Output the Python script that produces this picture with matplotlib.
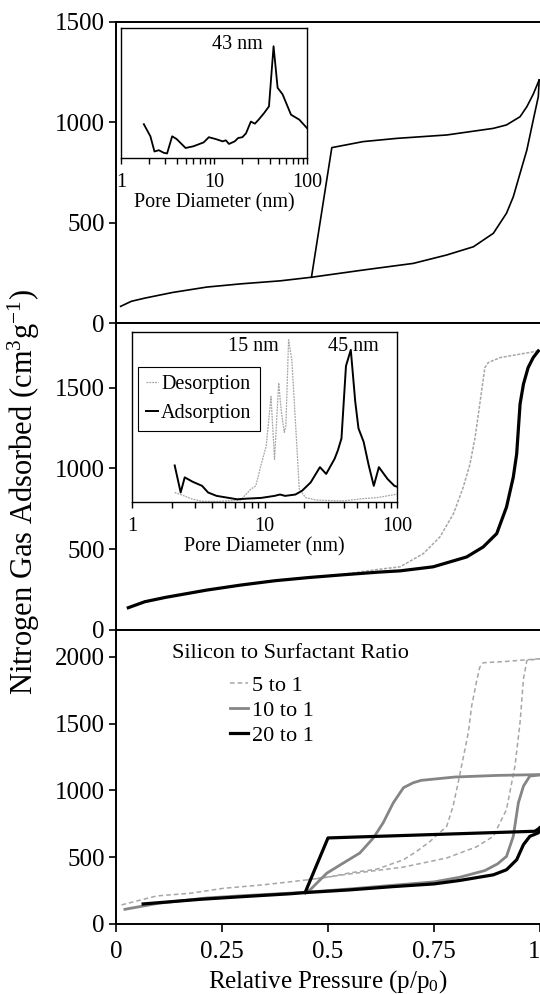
import matplotlib
matplotlib.use("Agg")
import matplotlib.pyplot as plt
import matplotlib.ticker as mticker
import numpy as np

plt.rcParams['font.family'] = ['Liberation Serif', 'DejaVu Serif']
plt.rcParams['mathtext.fontset'] = 'custom'
plt.rcParams['mathtext.rm'] = 'Liberation Serif'
plt.rcParams['mathtext.it'] = 'Liberation Serif:italic'

# ---- top panel isotherm (single sample) ----
p_ads_a = [0.011, 0.036, 0.068, 0.133, 0.214, 0.294, 0.387, 0.461, 0.583, 0.701, 0.78, 0.843,
           0.89, 0.921, 0.937, 0.953, 0.969, 0.984, 0.996, 0.998]
v_ads_a = [83, 108, 124, 152, 179, 195, 210, 228, 264, 297, 339, 380,
           447, 547, 629, 746, 862, 1011, 1128, 1211]
p_des_a = [0.998, 0.984, 0.969, 0.953, 0.921, 0.89, 0.78, 0.662, 0.583, 0.509, 0.461]
v_des_a = [1211, 1140, 1078, 1028, 987, 970, 937, 920, 904, 874, 228]

# top inset: pore size distribution (relative units)
d_a = [1.76, 2.07, 2.29, 2.55, 2.88, 3.13, 3.55, 3.96, 4.95, 6.0, 7.74, 8.8, 10.4, 12.4, 13.4,
       14.5, 16.7, 18.2, 20.2, 22.1, 24.9, 27.5, 30.2, 34.6, 39.0, 43.7, 48.3, 54.6, 67.3, 82.6, 100]
f_a = [0.26, 0.167, 0.05, 0.06, 0.04, 0.035, 0.167, 0.146, 0.077, 0.09, 0.12, 0.16, 0.146, 0.128, 0.136,
       0.108, 0.128, 0.154, 0.16, 0.19, 0.28, 0.264, 0.295, 0.346, 0.397, 0.86, 0.54, 0.49, 0.333, 0.295, 0.23]

# ---- middle panel isotherm ----
p_ads_b = [0.029, 0.068, 0.117, 0.214, 0.294, 0.375, 0.456, 0.537, 0.618, 0.67, 0.748, 0.827, 0.866,
           0.898, 0.921, 0.937, 0.945, 0.953, 0.961, 0.972, 0.984, 0.996]
v_ads_b = [138, 175, 202, 247, 278, 305, 325, 342, 358, 366, 391, 452, 514,
           597, 761, 946, 1090, 1399, 1522, 1624, 1686, 1727]
p_des_b = [0.996, 0.906, 0.878, 0.87, 0.858, 0.847, 0.835, 0.819, 0.796, 0.764, 0.725, 0.67,
           0.618, 0.537, 0.456, 0.375, 0.294, 0.214, 0.117, 0.068, 0.029]
v_des_b = [1727, 1686, 1655, 1624, 1399, 1193, 1029, 884, 720, 576, 473, 391,
           375, 345, 327, 305, 278, 247, 202, 175, 138]

# middle inset
d_ads_b = [2.10, 2.33, 2.50, 2.87, 3.38, 3.75, 4.35, 5.20, 6.21, 7.42, 9.42, 11.9, 13.1, 14.3, 17.1,
           19.2, 22.3, 26.2, 29.2, 33.8, 35.8, 38.1, 41.2, 44.8, 48.4, 51.2, 56.0, 61.2, 66.8, 73.0,
           84.9, 95.6, 100]
f_ads_b = [0.215, 0.056, 0.145, 0.119, 0.095, 0.056, 0.036, 0.026, 0.016, 0.02, 0.024, 0.036, 0.044,
           0.036, 0.044, 0.066, 0.115, 0.205, 0.165, 0.254, 0.304, 0.374, 0.80, 0.895, 0.59, 0.433,
           0.354, 0.215, 0.095, 0.205, 0.135, 0.095, 0.09]
d_des_b = [2.1, 2.4, 2.87, 3.42, 4.6, 6.6, 7.9, 8.6, 9.4, 10.3, 11.2, 11.9, 12.8, 13.4, 14.1, 14.5,
           15.2, 16.1, 17.3, 18.3, 20.4, 24.4, 39, 56, 71, 100]
f_des_b = [0.056, 0.04, 0.016, 0.004, 0.004, 0.012, 0.076, 0.095, 0.215, 0.33, 0.62, 0.25, 0.70, 0.53,
           0.41, 0.45, 0.954, 0.83, 0.41, 0.076, 0.026, 0.012, 0.006, 0.02, 0.026, 0.046]

# ---- bottom panel: three silicon/surfactant ratios ----
p_ads_5 = [0.013, 0.096, 0.175, 0.253, 0.347, 0.45, 0.552, 0.678, 0.78, 0.85, 0.89, 0.921, 0.941,
           0.953, 0.961, 0.969, 1.0]
v_ads_5 = [143, 210, 230, 267, 293, 330, 375, 426, 494, 577, 656, 857, 1183, 1509, 1835, 1972, 1985]
p_des_5 = [1.0, 0.921, 0.866, 0.858, 0.85, 0.839, 0.831, 0.823, 0.815, 0.807, 0.795, 0.78, 0.741,
           0.709, 0.678, 0.615, 0.552, 0.5, 0.45]
v_des_5 = [1985, 1965, 1955, 1922, 1809, 1634, 1434, 1308, 1183, 1058, 882, 731, 619,
           543, 481, 410, 383, 350, 330]

p_ads_10 = [0.021, 0.1, 0.214, 0.3, 0.446, 0.55, 0.654, 0.75, 0.811, 0.87, 0.9, 0.921, 0.937,
            0.949, 0.961, 0.976, 1.0]
v_ads_10 = [110, 155, 195, 212, 237, 262, 290, 315, 350, 400, 450, 506, 656, 907, 1032, 1107, 1115]
p_des_10 = [1.0, 0.9, 0.8, 0.72, 0.701, 0.678, 0.654, 0.63, 0.607, 0.575, 0.536, 0.497, 0.458, 0.446]
v_des_10 = [1118, 1112, 1100, 1075, 1057, 1020, 907, 757, 644, 531, 456, 380, 256, 237]

p_ads_20 = [0.064, 0.2, 0.3, 0.41, 0.446, 0.55, 0.654, 0.75, 0.811, 0.89, 0.921, 0.945, 0.961,
            0.976, 0.996, 1.0]
v_ads_20 = [150, 185, 205, 226, 235, 255, 280, 300, 326, 368, 406, 481, 594, 656, 682, 720]
p_des_20 = [1.0, 0.988, 0.5, 0.446]
v_des_20 = [720, 694, 644, 235]

ratio_labels = ['5 to 1', '10 to 1', '20 to 1']
x_ticks = [0, 0.25, 0.5, 0.75, 1]
x_ticklabels = ['0', '0.25', '0.5', '0.75', '1']

LIGHT = '#a6a6a6'
MID = '#858585'

fig = plt.figure(figsize=(5.4, 9.94), dpi=100)
L = 116 / 540
W = 1 - L
ax1 = fig.add_axes([L, 1 - 323 / 994, W, 301 / 994])
ax2 = fig.add_axes([L, 1 - 630 / 994, W, 307 / 994])
ax3 = fig.add_axes([L, 1 - 924 / 994, W, 294 / 994])

for ax, top, ticks in [(ax1, 1500, [0, 500, 1000, 1500]),
                       (ax2, 1900, [0, 500, 1000, 1500]),
                       (ax3, 2200, [0, 500, 1000, 1500, 2000])]:
    ax.set_xlim(0, 1.0)
    ax.set_ylim(0, top)
    ax.set_yticks(ticks)
    ax.spines['right'].set_visible(False)
    for s in ['left', 'top', 'bottom']:
        ax.spines[s].set_linewidth(1.4)
    ax.tick_params(axis='y', direction='out', length=5, width=1.2, labelsize=18, pad=3)
    ax.set_xticks(x_ticks)

for ax in (ax1, ax2):
    ax.tick_params(axis='x', bottom=False, labelbottom=False)
ax3.set_xticklabels(x_ticklabels)
ax3.tick_params(axis='x', direction='out', length=6, width=1.2, labelsize=18, pad=6)
# last label sits at the right edge of the figure
ax3.get_xticklabels()[-1].set_horizontalalignment('right')

# top panel
ax1.plot(p_ads_a, v_ads_a, color='black', lw=1.2)
ax1.plot(p_des_a, v_des_a, color='black', lw=1.2)

# middle panel
ax2.plot(p_des_b, v_des_b, color=LIGHT, lw=1.1, ls=(0, (2, 1)))
ax2.plot(p_ads_b, v_ads_b, color='black', lw=2.3)

# bottom panel
h5, = ax3.plot(p_ads_5, v_ads_5, color=LIGHT, lw=1.1, ls=(0, (3, 2)))
ax3.plot(p_des_5, v_des_5, color=LIGHT, lw=1.1, ls=(0, (3, 2)))
h10, = ax3.plot(p_ads_10, v_ads_10, color=MID, lw=2.0)
ax3.plot(p_des_10, v_des_10, color=MID, lw=2.0)
h20, = ax3.plot(p_ads_20, v_ads_20, color='black', lw=2.3)
ax3.plot(p_des_20, v_des_20, color='black', lw=2.3)
fig.text(172 / 540, 1 - 653 / 994, 'Silicon to Surfactant Ratio', ha='left', va='center', fontsize=16)
leg3 = ax3.legend([h5, h10, h20], ratio_labels,
                  frameon=False, fontsize=16, handlelength=0.8,
                  handletextpad=0.2, labelspacing=0.2, borderpad=0, borderaxespad=0,
                  loc='upper left', bbox_to_anchor=(230 / 540, 1 - 675 / 994),
                  bbox_transform=fig.transFigure)

ax3.set_xlabel('Relative Pressure (p/p$_\\mathregular{0}$)', fontsize=18, labelpad=4)
fig.text(24 / 540, 1 - 492 / 994, 'Nitrogen Gas Adsorbed (cm$^\\mathregular{3}$g$^\\mathregular{-1}$)',
         rotation=90, ha='center', va='center', fontsize=22)


def style_inset(ia):
    ia.set_xscale('log')
    ia.set_xlim(1, 100)
    ia.set_ylim(0, 1)
    ia.set_yticks([])
    ia.xaxis.set_major_locator(mticker.FixedLocator([1, 10, 100]))
    ia.xaxis.set_major_formatter(mticker.FixedFormatter(['1', '10', '100']))
    ia.xaxis.set_minor_locator(mticker.LogLocator(base=10, subs=np.arange(2, 10)))
    ia.xaxis.set_minor_formatter(mticker.NullFormatter())
    ia.tick_params(axis='x', which='both', direction='out', length=4, width=1, labelsize=14.5, pad=7)
    for s in ia.spines.values():
        s.set_linewidth(1.0)
    ia.set_xlabel('Pore Diameter (nm)', fontsize=14.5, labelpad=1)


# top inset
ins1 = fig.add_axes([121 / 540, 1 - 158 / 994, 186 / 540, 130 / 994])
style_inset(ins1)
ins1.plot(d_a, f_a, color='black', lw=1.3)
ins1.text(18, 0.875, '43 nm', ha='center', va='center', fontsize=14.5)

# middle inset
ins2 = fig.add_axes([132 / 540, 1 - 502 / 994, 265 / 540, 170 / 994])
style_inset(ins2)
hd, = ins2.plot(d_des_b, f_des_b, color=LIGHT, lw=0.9, ls=(0, (1.5, 0.8)))
ha, = ins2.plot(d_ads_b, f_ads_b, color='black', lw=1.4)
ins2.text(8.3, 0.915, '15 nm', ha='center', va='center', fontsize=14.5)
ins2.text(47, 0.915, '45 nm', ha='center', va='center', fontsize=14.5)
lg2 = ins2.legend([hd, ha], ['Desorption', 'Adsorption'], fontsize=14.5, handlelength=0.6,
                  handletextpad=0.15, labelspacing=0.5, borderpad=0.4, borderaxespad=0,
                  fancybox=False, edgecolor='black', framealpha=1,
                  loc='upper left', bbox_to_anchor=(138 / 540, 1 - 367 / 994),
                  bbox_transform=fig.transFigure)
lg2.get_frame().set_linewidth(0.8)

fig.savefig('out.png', dpi=100)
